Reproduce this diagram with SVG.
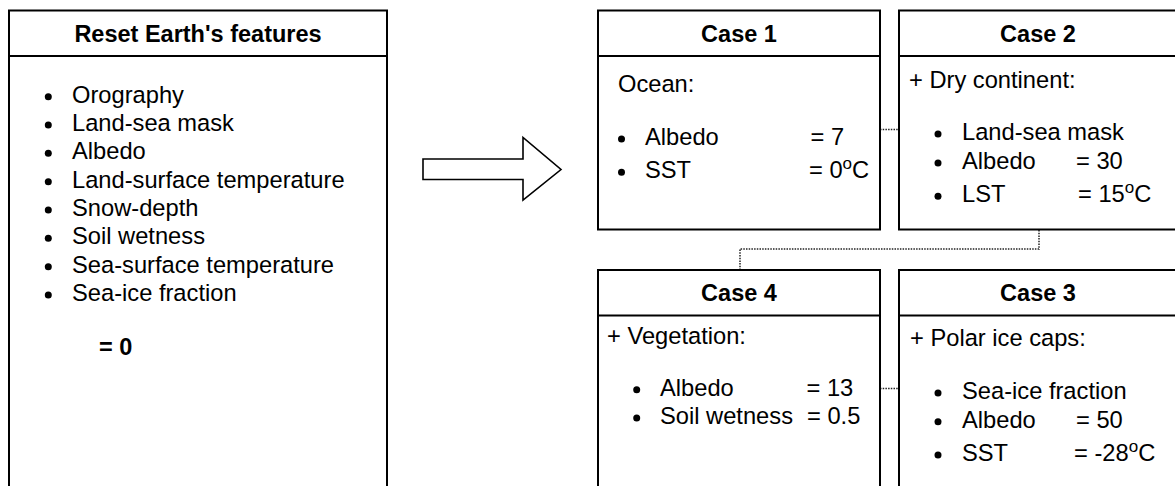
<svg xmlns="http://www.w3.org/2000/svg" width="1175" height="486" viewBox="0 0 1175 486">
<style>
  .box { fill: #ffffff; stroke: #000000; stroke-width: 2; }
  .hdr { stroke: #000000; stroke-width: 2; }
  .t { font-family: "Liberation Sans", Arial, sans-serif; font-size: 23.7px; fill: #000000; }
  .b { font-family: "Liberation Sans", Arial, sans-serif; font-size: 23.5px; font-weight: bold; fill: #000000; }
  .mid { text-anchor: middle; }
  .sup { font-size: 17px; }
  .dot { fill: #000000; }
  .conn { fill: none; stroke: #222222; stroke-width: 1.5; stroke-dasharray: 1.5 1.2; }
  .arrow { fill: #ffffff; stroke: #000000; stroke-width: 1.6; stroke-linejoin: miter; }
</style>
<rect width="1175" height="486" fill="#ffffff"/>

<g id="connectors">
  <path class="conn" d="M880,129.5 H899"/>
  <path class="conn" d="M1039,230 V249 H740 V270"/>
  <path class="conn" d="M880,388.5 H899"/>
  <polygon id="big-arrow" class="arrow" points="423,159 523,159 523,137.5 561,169.5 523,200 523,179.5 423,179.5"/>
</g>

<g id="reset-features">
  <rect class="box" x="9" y="10.5" width="378" height="500"/>
  <line class="hdr" x1="9" y1="56" x2="387" y2="56"/>
  <text class="b mid" x="198" y="42.3">Reset Earth's features</text>
  <circle class="dot" cx="48.3" cy="96.7" r="3.5"/>
  <text class="t" x="72" y="102.7">Orography</text>
  <circle class="dot" cx="48.3" cy="125" r="3.5"/>
  <text class="t" x="72" y="131">Land-sea mask</text>
  <circle class="dot" cx="48.3" cy="153.3" r="3.5"/>
  <text class="t" x="72" y="159.3">Albedo</text>
  <circle class="dot" cx="48.3" cy="181.7" r="3.5"/>
  <text class="t" x="72" y="187.7">Land-surface temperature</text>
  <circle class="dot" cx="48.3" cy="210" r="3.5"/>
  <text class="t" x="72" y="216">Snow-depth</text>
  <circle class="dot" cx="48.3" cy="238.3" r="3.5"/>
  <text class="t" x="72" y="244.3">Soil wetness</text>
  <circle class="dot" cx="48.3" cy="266.7" r="3.5"/>
  <text class="t" x="72" y="272.7">Sea-surface temperature</text>
  <circle class="dot" cx="48.3" cy="295" r="3.5"/>
  <text class="t" x="72" y="301">Sea-ice fraction</text>
  <text class="b" x="99" y="355">= 0</text>
</g>

<g id="case1">
  <rect class="box" x="598" y="10.5" width="282" height="219"/>
  <line class="hdr" x1="598" y1="56" x2="880" y2="56"/>
  <text class="b mid" x="739" y="42.3">Case 1</text>
  <text class="t" x="618" y="92.3">Ocean:</text>
  <circle class="dot" cx="621.5" cy="139" r="3.5"/>
  <text class="t" x="645" y="145">Albedo</text>
  <text class="t" x="810.5" y="145">= 7</text>
  <circle class="dot" cx="621.5" cy="172.3" r="3.5"/>
  <text class="t" x="645" y="178.3">SST</text>
  <text class="t" x="809" y="178.3">= 0<tspan class="sup" dy="-9">o</tspan><tspan dy="9">C</tspan></text>
</g>

<g id="case2">
  <rect class="box" x="899" y="10.5" width="282" height="219"/>
  <line class="hdr" x1="899" y1="56" x2="1181" y2="56"/>
  <text class="b mid" x="1038" y="42.3">Case 2</text>
  <text class="t" x="909" y="88.3">+ Dry continent:</text>
  <circle class="dot" cx="938" cy="134" r="3.5"/>
  <text class="t" x="962" y="140">Land-sea mask</text>
  <circle class="dot" cx="938" cy="163" r="3.5"/>
  <text class="t" x="962" y="169">Albedo</text>
  <text class="t" x="1076" y="169">= 30</text>
  <circle class="dot" cx="938" cy="196.3" r="3.5"/>
  <text class="t" x="962" y="202.3">LST</text>
  <text class="t" x="1078" y="202.3">= 15<tspan class="sup" dy="-9">o</tspan><tspan dy="9">C</tspan></text>
</g>

<g id="case4">
  <rect class="box" x="598" y="270" width="282" height="240"/>
  <line class="hdr" x1="598" y1="315.5" x2="880" y2="315.5"/>
  <text class="b mid" x="739" y="301">Case 4</text>
  <text class="t" x="607" y="344">+ Vegetation:</text>
  <circle class="dot" cx="636.7" cy="389.7" r="3.5"/>
  <text class="t" x="660" y="395.7">Albedo</text>
  <text class="t" x="806.5" y="395.7">= 13</text>
  <circle class="dot" cx="636.7" cy="418" r="3.5"/>
  <text class="t" x="660" y="424">Soil wetness</text>
  <text class="t" x="807" y="424">= 0.5</text>
</g>

<g id="case3">
  <rect class="box" x="899" y="270" width="282" height="240"/>
  <line class="hdr" x1="899" y1="315.5" x2="1181" y2="315.5"/>
  <text class="b mid" x="1038" y="301">Case 3</text>
  <text class="t" x="910" y="345.7">+ Polar ice caps:</text>
  <circle class="dot" cx="938" cy="393" r="3.5"/>
  <text class="t" x="962" y="399">Sea-ice fraction</text>
  <circle class="dot" cx="938" cy="421.7" r="3.5"/>
  <text class="t" x="962" y="427.7">Albedo</text>
  <text class="t" x="1076" y="427.7">= 50</text>
  <circle class="dot" cx="938" cy="455" r="3.5"/>
  <text class="t" x="962" y="461">SST</text>
  <text class="t" x="1074" y="461">= -28<tspan class="sup" dy="-9">o</tspan><tspan dy="9">C</tspan></text>
</g>
</svg>
